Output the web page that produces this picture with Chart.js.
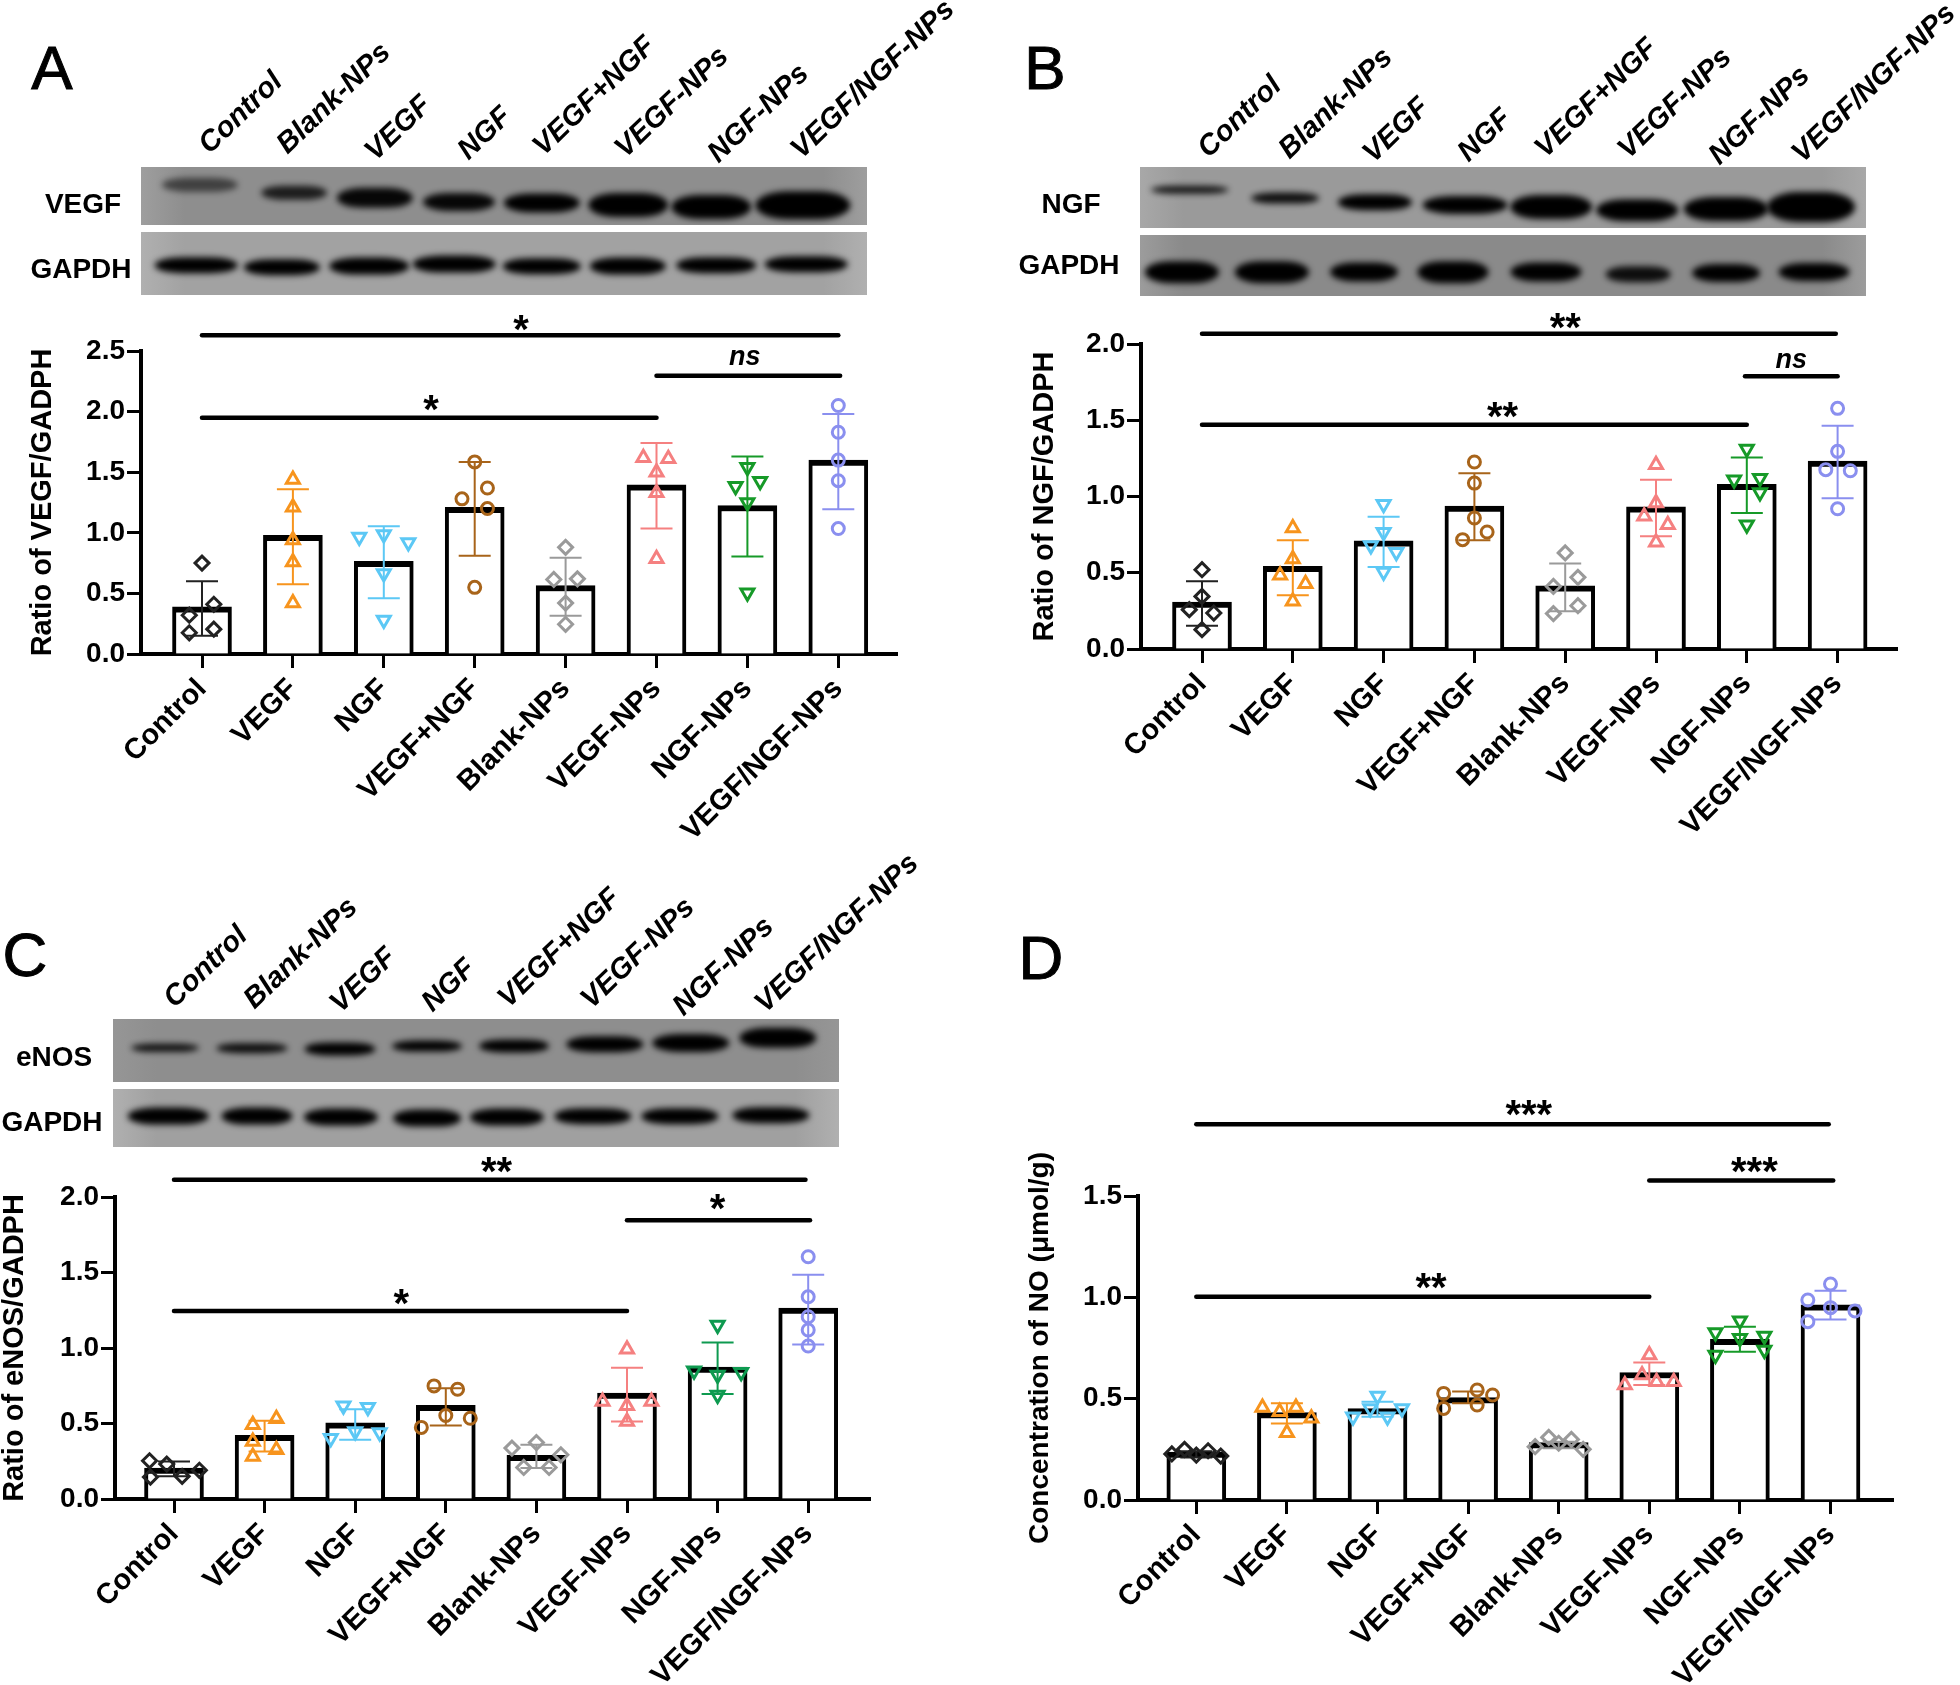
<!DOCTYPE html>
<html lang="en">
<head>
<meta charset="UTF-8">
<title>Western blots and NO concentration</title>
<script src="https://cdn.jsdelivr.net/npm/chart.js"></script>
<style>
    body { margin: 0; background: #fff; }
    #page { position: relative; width: 1960px; height: 1685px; overflow: hidden; font-family: 'Liberation Sans', Arial, sans-serif; color: #000; filter: blur(0.6px); }
    canvas { position: absolute; }
    .letter { position: absolute; font-size: 62px; line-height: 62px; -webkit-text-stroke: 1px #000; transform: translate(-50%, -50%); }
    .rowname { position: absolute; font-size: 28px; font-weight: bold; line-height: 28px; transform: translate(-50%, -50%); }
    .lane { position: absolute; font-size: 29px; font-weight: bold; font-style: italic; line-height: 29px; white-space: nowrap; transform-origin: left center; transform: translateY(-50%) rotate(-44deg); }
    .blot { position: absolute; overflow: hidden; }
    .band { position: absolute; background: #000; border-radius: 35%/50%; filter: blur(3px); transform: translate(-50%, -50%); }
</style>
</head>
<body>
<div id="page"></div>
<script>
// group order on the bar charts
const categories = ['Control', 'VEGF', 'NGF', 'VEGF+NGF', 'Blank-NPs', 'VEGF-NPs', 'NGF-NPs', 'VEGF/NGF-NPs'];
// lane order on the blots
const laneNames = ['Control', 'Blank-NPs', 'VEGF', 'NGF', 'VEGF+NGF', 'VEGF-NPs', 'NGF-NPs', 'VEGF/NGF-NPs'];

// Panel A, VEGF/GAPDH
const aMeans = [0.39, 0.98, 0.765, 1.21, 0.565, 1.395, 1.225, 1.60];
const aErrLow = [0.15, 0.575, 0.46, 0.81, 0.315, 1.035, 0.805, 1.195];
const aErrHigh = [0.60, 1.36, 1.055, 1.585, 0.795, 1.74, 1.63, 1.98];
const aPointsY = [
    [0.75, 0.41, 0.32, 0.205, 0.175], [1.44, 1.21, 0.94, 0.76, 0.42], [0.965, 0.985, 0.92, 0.665, 0.28], [1.585, 1.37, 1.28, 1.2, 0.55],
    [0.88, 0.615, 0.62, 0.42, 0.245], [1.62, 1.61, 1.5, 1.33, 0.785], [1.54, 1.385, 1.425, 1.25, 0.505], [2.05, 1.83, 1.6, 1.43, 1.035]
];
const aJitter = [
    [0, 0.13, -0.14, 0.13, -0.14], [0, 0, 0, 0, 0], [-0.27, 0, 0.27, 0, 0], [0, 0.14, -0.14, 0.14, 0],
    [0, -0.13, 0.13, 0, 0], [-0.145, 0.13, 0, 0, 0], [0, -0.13, 0.14, 0, 0], [0, 0, 0, 0, 0]
];
const aBrackets = [[0, 7, 2.63], [5, 7.02, 2.295], [0, 5, 1.95]];
const aMarks = [['*', 3.51, 2.733], ['ns', 5.97, 2.445], ['*', 2.52, 2.067]];

// Panel B, NGF/GAPDH
const bMeans = [0.308, 0.542, 0.71, 0.937, 0.415, 0.933, 1.079, 1.232];
const bErrLow = [0.153, 0.352, 0.538, 0.713, 0.247, 0.739, 0.892, 0.988];
const bErrHigh = [0.444, 0.713, 0.868, 1.152, 0.56, 1.11, 1.255, 1.464];
const bPointsY = [
    [0.52, 0.345, 0.258, 0.236, 0.127], [0.793, 0.59, 0.483, 0.428, 0.313], [0.95, 0.765, 0.678, 0.634, 0.505], [1.226, 1.088, 0.859, 0.767, 0.717],
    [0.63, 0.47, 0.41, 0.284, 0.232], [1.209, 0.957, 0.87, 0.815, 0.70], [1.311, 1.11, 1.12, 1.027, 0.815], [1.578, 1.296, 1.176, 1.169, 0.92]
];
const bJitter = [
    [0, 0, -0.14, 0.13, 0], [0, 0, -0.14, 0.14, 0], [0, 0, -0.14, 0.14, 0], [0, 0, 0, 0.14, -0.13],
    [0, 0.14, -0.13, 0.14, -0.13], [0, 0, -0.13, 0.13, 0], [0, -0.14, 0.145, 0.145, 0], [0, 0, -0.13, 0.14, 0]
];
const bBrackets = [[0, 6.98, 2.068], [5.98, 7, 1.788], [0, 6, 1.471]];
const bMarks = [['**', 4.0, 2.149], ['ns', 6.49, 1.886], ['**', 3.31, 1.565]];

// Panel C, eNOS/GAPDH
const cMeans = [0.205, 0.422, 0.504, 0.621, 0.29, 0.702, 0.874, 1.264];
const cErrLow = [0.15, 0.315, 0.392, 0.487, 0.205, 0.513, 0.696, 1.024];
const cErrHigh = [0.249, 0.518, 0.595, 0.733, 0.359, 0.87, 1.037, 1.485];
const cPointsY = [
    [0.253, 0.231, 0.19, 0.15, 0.145], [0.531, 0.491, 0.381, 0.326, 0.282], [0.617, 0.608, 0.44, 0.447, 0.403], [0.749, 0.727, 0.553, 0.535, 0.474],
    [0.374, 0.337, 0.293, 0.209, 0.209], [0.991, 0.645, 0.645, 0.617, 0.513], [1.152, 0.85, 0.822, 0.839, 0.689], [1.604, 1.339, 1.207, 1.119, 1.013]
];
const cJitter = [
    [-0.27, -0.08, 0.28, 0.09, -0.26], [0.13, -0.13, -0.13, 0.13, -0.13], [-0.13, 0.14, 0.27, 0, -0.27], [-0.13, 0.13, 0, 0.27, -0.27],
    [0, -0.27, 0.27, -0.14, 0.14], [0, -0.27, 0.27, 0, 0], [0, -0.26, 0, 0.26, 0], [0, 0, 0, 0, 0]
];
const cBrackets = [[0, 6.97, 2.115], [5, 7.02, 1.846], [0, 5, 1.245]];
const cMarks = [['**', 3.56, 2.209], ['*', 6.0, 1.967], ['*', 2.51, 1.339]];

// Panel D, NO concentration
const dMeans = [0.237, 0.431, 0.451, 0.505, 0.283, 0.629, 0.793, 0.963];
const dErrLow = [0.21, 0.378, 0.411, 0.477, 0.255, 0.567, 0.732, 0.891];
const dErrHigh = [0.24, 0.477, 0.485, 0.535, 0.288, 0.679, 0.855, 1.033];
const dPointsY = [
    [0.227, 0.25, 0.222, 0.243, 0.217], [0.457, 0.436, 0.457, 0.403, 0.332], [0.513, 0.411, 0.452, 0.452, 0.411], [0.526, 0.543, 0.518, 0.452, 0.469],
    [0.309, 0.299, 0.263, 0.28, 0.25], [0.715, 0.617, 0.584, 0.567, 0.584], [0.885, 0.827, 0.809, 0.798, 0.715, 0.74], [1.066, 0.987, 0.949, 0.933, 0.88]
];
const dJitter = [
    [-0.27, -0.13, 0, 0.13, 0.27], [-0.27, -0.08, 0.1, 0.27, 0], [0, -0.27, 0.27, -0.08, 0.11], [-0.27, 0.1, 0.27, -0.27, 0.1],
    [-0.11, 0.14, -0.26, 0, 0.27], [0, -0.08, 0.27, -0.27, 0.08], [0, -0.27, 0.27, 0, -0.27, 0.27], [0, -0.25, 0, 0.27, -0.25]
];
const dBrackets = [[0, 6.98, 1.854], [5, 7.03, 1.576], [0, 5, 1.003]];
const dMarks = [['***', 3.67, 1.933], ['***', 6.16, 1.653], ['**', 2.59, 1.081]];

const groupColors = ['#222222', '#f7941d', '#5cc8f5', '#a8641a', '#9a9a9a', '#f58080', '#169a28', '#8a8fef'];
const pointShapes = ['rectRot', 'triangle', 'triangle', 'circle', 'rectRot', 'triangle', 'triangle', 'circle'];
const pointFlip = [0, 0, 180, 0, 0, 0, 180, 0];
const pointSizes = { circle: 6, rectRot: 7, triangle: 7.5 };
const fontFamily = "'Liberation Sans', Arial, sans-serif";

// draws the error bars between the bars and the points, then the stars
const markupPlugin = {
    id: 'markup',
    afterDatasetDraw(chart, args, opts) {
        if (args.index !== 0) return;
        const ctx = chart.ctx, x = chart.scales.x, y = chart.scales.y;
        ctx.save();
        ctx.lineWidth = 2;
        opts.errLow.forEach(function(lo, i) {
            const cx = x.getPixelForValue(i), top = y.getPixelForValue(opts.errHigh[i]), bot = y.getPixelForValue(lo);
            ctx.strokeStyle = opts.colors[i];
            ctx.beginPath();
            ctx.moveTo(cx, top); ctx.lineTo(cx, bot);
            ctx.moveTo(cx - 16, top); ctx.lineTo(cx + 16, top);
            ctx.moveTo(cx - 16, bot); ctx.lineTo(cx + 16, bot);
            ctx.stroke();
        });
        ctx.restore();
    },
    afterDraw(chart, args, opts) {
        const ctx = chart.ctx, x = chart.scales.x, y = chart.scales.y;
        ctx.save();
        ctx.fillStyle = '#000';
        ctx.textAlign = 'center';
        ctx.textBaseline = 'alphabetic';
        opts.marks.forEach(function(m) {
            const ns = m[0] === 'ns';
            ctx.font = ns ? 'italic bold 27px ' + fontFamily : 'bold 40px ' + fontFamily;
            ctx.fillText(m[0], x.getPixelForValue(m[1]), y.getPixelForValue(m[2]) + (ns ? 7 : 20));
        });
        ctx.restore();
    }
};

function addChart(p) {
    const canvas = document.createElement('canvas');
    canvas.width = p.box[2]; canvas.height = p.box[3];
    canvas.style.left = p.box[0] + 'px'; canvas.style.top = p.box[1] + 'px';
    canvas.style.width = p.box[2] + 'px'; canvas.style.height = p.box[3] + 'px';
    document.getElementById('page').appendChild(canvas);

    const colors = groupColors.map(function(c, i) { return i === 6 && p.green ? p.green : c; });
    const datasets = [{
        type: 'bar', order: 3, clip: false,
        data: p.means.map(function(v, i) { return { x: i, y: v }; }),
        backgroundColor: '#fff', borderColor: '#000',
        borderWidth: { top: 6, left: 4, right: 4, bottom: 0 },
        barThickness: 59
    }];
    p.pointsY.forEach(function(ys, i) {
        datasets.push({
            type: 'scatter', order: 1, clip: false,
            data: ys.map(function(v, j) { return { x: i + p.jitter[i][j], y: v }; }),
            pointStyle: pointShapes[i], rotation: pointFlip[i],
            pointRadius: pointSizes[pointShapes[i]],
            pointBorderWidth: 3, pointBorderColor: colors[i], pointBackgroundColor: 'transparent'
        });
    });
    p.brackets.forEach(function(b) {
        datasets.push({
            type: 'line', order: 2, clip: false,
            data: [{ x: b[0], y: b[2] }, { x: b[1], y: b[2] }],
            borderColor: '#000', borderWidth: 4.5, borderCapStyle: 'round', pointRadius: 0
        });
    });

    new Chart(canvas, {
        type: 'bar',
        data: { datasets: datasets },
        plugins: [markupPlugin],
        options: {
            responsive: false, animation: false,
            layout: { padding: { top: p.top - p.box[1], right: p.box[0] + p.box[2] - p.right, left: 0, bottom: 0 } },
            plugins: {
                legend: { display: false }, tooltip: { enabled: false },
                markup: { errLow: p.errLow, errHigh: p.errHigh, marks: p.marks, colors: colors }
            },
            scales: {
                x: {
                    type: 'linear', offset: false,
                    min: (p.left - p.c0) / p.step, max: (p.right - p.c0) / p.step,
                    afterBuildTicks: function(s) { s.ticks = categories.map(function(c, i) { return { value: i }; }); },
                    afterFit: function(s) { s.height = p.box[1] + p.box[3] - p.bottom; },
                    grid: { offset: false, drawOnChartArea: false, tickLength: 14, tickWidth: 3, tickColor: '#000' },
                    border: { color: '#000', width: 4 },
                    ticks: {
                        autoSkip: false, minRotation: 45, maxRotation: 45, padding: 4, color: '#000',
                        font: { family: fontFamily, size: 29, weight: 'bold' },
                        callback: function(v) { return categories[v]; }
                    }
                },
                y: {
                    min: 0, max: p.yMax,
                    afterFit: function(s) { s.width = p.left - p.box[0]; },
                    grid: { drawOnChartArea: false, tickLength: 14, tickWidth: 3, tickColor: '#000' },
                    border: { color: '#000', width: 4 },
                    title: {
                        display: true, text: p.title, color: '#000', padding: { top: p.titleX, bottom: 0 },
                        font: { family: fontFamily, size: p.titleSize, weight: 'bold', lineHeight: 1 }
                    },
                    ticks: {
                        stepSize: 0.5, padding: 2, color: '#000',
                        font: { family: fontFamily, size: 28, weight: 'bold' },
                        callback: function(v) { return v.toFixed(1); }
                    }
                }
            }
        }
    });
}

// blot picture made of blurred bands: [x, y, width, height, opacity]
function addBlot(box, grey, bands) {
    const blot = document.createElement('div');
    blot.className = 'blot';
    blot.style.cssText = 'left:' + box[0] + 'px;top:' + box[1] + 'px;width:' + (box[2] - box[0]) + 'px;height:' + (box[3] - box[1]) + 'px;' +
        'background:linear-gradient(90deg,' + grey[1] + ',' + grey[0] + ' 6%,' + grey[0] + ' 94%,' + grey[1] + ');';
    bands.forEach(function(b) {
        const band = document.createElement('div');
        band.className = 'band';
        band.style.cssText = 'left:' + (b[0] - box[0]) + 'px;top:' + (b[1] - box[1]) + 'px;width:' + (b[2] * 1.06) + 'px;height:' + (b[3] * 1.2) + 'px;opacity:' + (b[4] || 1) + ';';
        blot.appendChild(band);
    });
    document.getElementById('page').appendChild(blot);
}

function addText(cls, text, x, y) {
    const el = document.createElement('div');
    el.className = cls;
    el.textContent = text;
    el.style.left = x + 'px';
    el.style.top = y + 'px';
    document.getElementById('page').appendChild(el);
}

addBlot([141, 167, 867, 225], ['#8e8e8e', '#9e9e9e'], [[200,185,72,12,.55],[294,193,62,12,.8],[375,198,72,17,.95],[459,202,68,15,.95],[542,203,72,16],[628,205,75,20],[711,207,75,20],[803,205,90,23]]);
addBlot([141, 232, 867, 295], ['#a2a2a2', '#b0b0b0'], [[196,265,78,13],[282,267,72,13],[369,266,75,14],[454,264,78,14],[542,266,74,13],[628,266,72,14],[716,265,75,13],[806,264,78,13]]);
addBlot([1140, 167, 1866, 228], ['#9a9a9a', '#a8a8a8'], [[1190,190,74,7,.85],[1285,198,64,9,.9],[1375,202,70,13],[1465,205,80,15],[1551,207,77,20],[1637,210,77,18],[1726,209,80,20],[1811,207,83,25]]);
addBlot([1140, 235, 1866, 296], ['#8a8a8a', '#9c9c9c'], [[1182,272,70,18],[1272,272,70,18],[1364,272,64,16],[1453,272,67,18],[1546,272,67,16],[1638,274,61,13,.9],[1726,273,64,15],[1814,272,67,15]]);
addBlot([113, 1019, 839, 1082], ['#8e8e8e', '#969696'], [[165,1048,64,7,.9],[252,1048,67,8,.9],[340,1049,67,11],[427,1046,66,9],[514,1046,66,11],[605,1044,73,13],[691,1043,73,15],[778,1038,73,17]]);
addBlot([113, 1089, 839, 1147], ['#a0a0a0', '#b0b0b0'], [[168,1116,76,14],[257,1116,67,14],[341,1117,70,14],[427,1118,64,14],[507,1117,70,14],[593,1116,73,13],[680,1116,73,13],[771,1115,73,13]]);

addText('letter', 'A', 52, 68);
addText('letter', 'B', 1045, 68);
addText('letter', 'C', 25, 955);
addText('letter', 'D', 1041, 958);
addText('rowname', 'VEGF', 83, 204);
addText('rowname', 'GAPDH', 81, 269);
addText('rowname', 'NGF', 1071, 204);
addText('rowname', 'GAPDH', 1069, 265);
addText('rowname', 'eNOS', 54, 1057);
addText('rowname', 'GAPDH', 52, 1122);

[[203,148],[281,148],[369,155],[462,154],[537,150],[619,152],[712,157],[795,153]].forEach(function(a, i) { addText('lane', laneNames[i], a[0], a[1]); });
[[1202,152],[1283,153],[1367,157],[1462,156],[1539,152],[1622,153],[1713,159],[1796,157]].forEach(function(a, i) { addText('lane', laneNames[i], a[0], a[1]); });
[[168,1002],[248,1003],[334,1007],[426,1006],[502,1002],[585,1003],[677,1010],[759,1007]].forEach(function(a, i) { addText('lane', laneNames[i], a[0], a[1]); });

addChart({ box: [0, 300, 960, 550], left: 141, right: 897, top: 351, bottom: 654, c0: 202, step: 90.9, yMax: 2.5, titleX: 28, titleSize: 29,
    title: 'Ratio of VEGF/GADPH', means: aMeans, errLow: aErrLow, errHigh: aErrHigh, pointsY: aPointsY, jitter: aJitter, brackets: aBrackets, marks: aMarks });
addChart({ box: [1000, 300, 960, 550], left: 1141, right: 1897, top: 344, bottom: 649, c0: 1202, step: 90.8, yMax: 2, titleX: 30, titleSize: 29,
    title: 'Ratio of NGF/GADPH', means: bMeans, errLow: bErrLow, errHigh: bErrHigh, pointsY: bPointsY, jitter: bJitter, brackets: bBrackets, marks: bMarks });
addChart({ box: [0, 1150, 960, 535], left: 115, right: 870, top: 1197, bottom: 1499, c0: 174, step: 90.6, yMax: 2, titleX: 0, titleSize: 29, green: '#0e9a50',
    title: 'Ratio of eNOS/GADPH', means: cMeans, errLow: cErrLow, errHigh: cErrHigh, pointsY: cPointsY, jitter: cJitter, brackets: cBrackets, marks: cMarks });
addChart({ box: [1000, 1090, 960, 595], left: 1138, right: 1893, top: 1196, bottom: 1500, c0: 1196.3, step: 90.6, yMax: 1.5, titleX: 26, titleSize: 28,
    title: 'Concentration of NO (\u03bcmol/g)', means: dMeans, errLow: dErrLow, errHigh: dErrHigh, pointsY: dPointsY, jitter: dJitter, brackets: dBrackets, marks: dMarks });
</script>
</body>
</html>
